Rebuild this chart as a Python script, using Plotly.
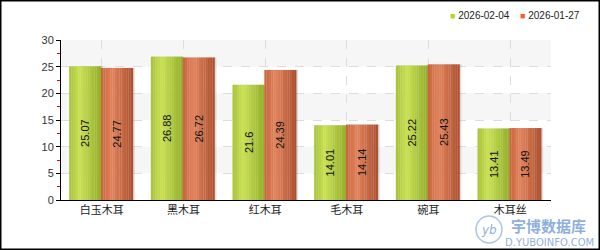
import plotly.graph_objects as go

categories = ["白玉木耳", "黑木耳", "红木耳", "毛木耳", "碗耳", "木耳丝"]
series_names = ["2026-02-04", "2026-01-27"]
values_0204 = [25.07, 26.88, 21.6, 14.01, 25.22, 13.41]
values_0127 = [24.77, 26.72, 24.39, 14.14, 25.43, 13.49]
y_ticks = [0, 5, 10, 15, 20, 25, 30]

series_values = [values_0204, values_0127]
# gradient stops (position, rgb) per series
grad_stops = [
    [(0.0, (166, 192, 56)), (0.33, (202, 226, 82)), (1.0, (146, 174, 40))],
    [(0.0, (200, 100, 60)), (0.35, (226, 130, 90)), (1.0, (172, 78, 44))],
]
legend_colors = ["#b4d62c", "#e8652e"]
bar_offsets = [-0.40, -0.01]
bar_width = 0.392
N = 14

PL, PR, PT, PB = 61, 551, 40, 200  # plot area in pixels


def px_x(p):
    return (p - PL) / (PR - PL)


def px_y(p):
    return (PB - p) / (PB - PT)


def interp(stops, t):
    for (p0, c0), (p1, c1) in zip(stops[:-1], stops[1:]):
        if p0 <= t <= p1:
            f = (t - p0) / (p1 - p0)
            c = tuple(round(a + (b - a) * f) for a, b in zip(c0, c1))
            return "rgb(%d,%d,%d)" % c
    return "rgb(%d,%d,%d)" % stops[-1][1]


fig = go.Figure()

# soft shadows
for s, vals in enumerate(series_values):
    fig.add_trace(go.Bar(
        x=categories, y=vals, offset=bar_offsets[s] + 0.022, width=bar_width,
        marker=dict(color="rgba(110,110,110,0.22)", line=dict(width=0)),
        showlegend=False, hoverinfo="skip",
    ))

# gradient strips
for s, vals in enumerate(series_values):
    sw = bar_width / N
    for i in range(N):
        t = (i + 0.5) / N
        fig.add_trace(go.Bar(
            x=categories, y=vals,
            offset=bar_offsets[s] + i * sw, width=sw * 1.04,
            marker=dict(color=interp(grad_stops[s], t), line=dict(width=0)),
            showlegend=False, hoverinfo="skip",
        ))

# value labels
for s, vals in enumerate(series_values):
    fig.add_trace(go.Bar(
        x=categories, y=vals, offset=bar_offsets[s], width=bar_width,
        name=series_names[s],
        marker=dict(color="rgba(0,0,0,0)", line=dict(width=0)),
        text=[f"{v:g}" for v in vals], textposition="inside",
        insidetextanchor="middle", textangle=-90,
        textfont=dict(size=11, color="#111111", family="Liberation Sans, Arial"),
        showlegend=False,
    ))

# legend (compact, top right)
legend_right = [512, 582]
for s in range(2):
    fig.add_annotation(
        xref="paper", yref="paper", x=px_x(legend_right[s]), y=px_y(15),
        xanchor="right", yanchor="middle", showarrow=False,
        text=f'<span style="color:{legend_colors[s]};font-size:9px">■</span> {series_names[s]}',
        font=dict(size=10, color="#222", family="Liberation Sans, Arial"),
    )

# alternating background bands
for lo, hi in zip(y_ticks[1::2], y_ticks[2::2]):
    fig.add_shape(type="rect", xref="paper", yref="y", x0=0, x1=1, y0=lo, y1=hi,
                  fillcolor="#f6f6f6", line=dict(width=0), layer="below")

# outer border
fig.add_shape(type="rect", xref="paper", yref="paper",
              x0=px_x(0.75), x1=px_x(599.25), y0=px_y(249.25), y1=px_y(0.75),
              line=dict(color="black", width=1.5))

# watermark
wm = "rgba(90,140,205,0.7)"
fig.add_shape(type="circle", xref="paper", yref="paper",
              x0=px_x(476), x1=px_x(502), y0=px_y(243), y1=px_y(216),
              line=dict(color="rgba(90,140,205,0.5)", width=1.5))
fig.add_annotation(xref="paper", yref="paper", x=px_x(489), y=px_y(229.5),
                   xanchor="center", yanchor="middle",
                   text="<i>yb</i>", showarrow=False,
                   font=dict(size=12, color=wm, family="DejaVu Sans"))
fig.add_annotation(xref="paper", yref="paper", x=px_x(548), y=px_y(225),
                   xanchor="center", yanchor="middle", borderpad=0,
                   text="<b>宇博数据库</b>", showarrow=False,
                   font=dict(size=15, color=wm, family="Noto Sans CJK SC"))
fig.add_annotation(xref="paper", yref="paper", x=px_x(549), y=px_y(242),
                   xanchor="center", yanchor="middle", borderpad=0,
                   text="D.YUBOINFO.COM", showarrow=False,
                   font=dict(size=10, color=wm, family="DejaVu Sans"))

fig.update_layout(
    width=600, height=250,
    margin=dict(l=PL, r=600 - PR, t=PT, b=250 - PB, autoexpand=False),
    paper_bgcolor="white", plot_bgcolor="white",
    barmode="overlay",
    showlegend=False,
    font=dict(family="Liberation Sans, Arial", color="#333"),
)
fig.update_xaxes(
    showline=True, linecolor="black", linewidth=1,
    showgrid=True, gridcolor="#dddddd", griddash="dash", gridwidth=1,
    ticks="", tickfont=dict(size=11, family="Noto Sans CJK SC", color="#222"),
    range=[-0.5, 5.5],
)
fig.update_yaxes(
    range=[0, 30], tickvals=y_ticks,
    showline=True, linecolor="black", linewidth=1,
    showgrid=True, gridcolor="#dddddd", griddash="dash", gridwidth=1,
    ticks="outside", ticklen=4, tickcolor="black",
    tickfont=dict(size=11, color="#333"),
    minor=dict(dtick=2.5, ticks="outside", ticklen=3, tickcolor="red", showgrid=False),
    zeroline=False,
)

fig.write_html("out.html")
